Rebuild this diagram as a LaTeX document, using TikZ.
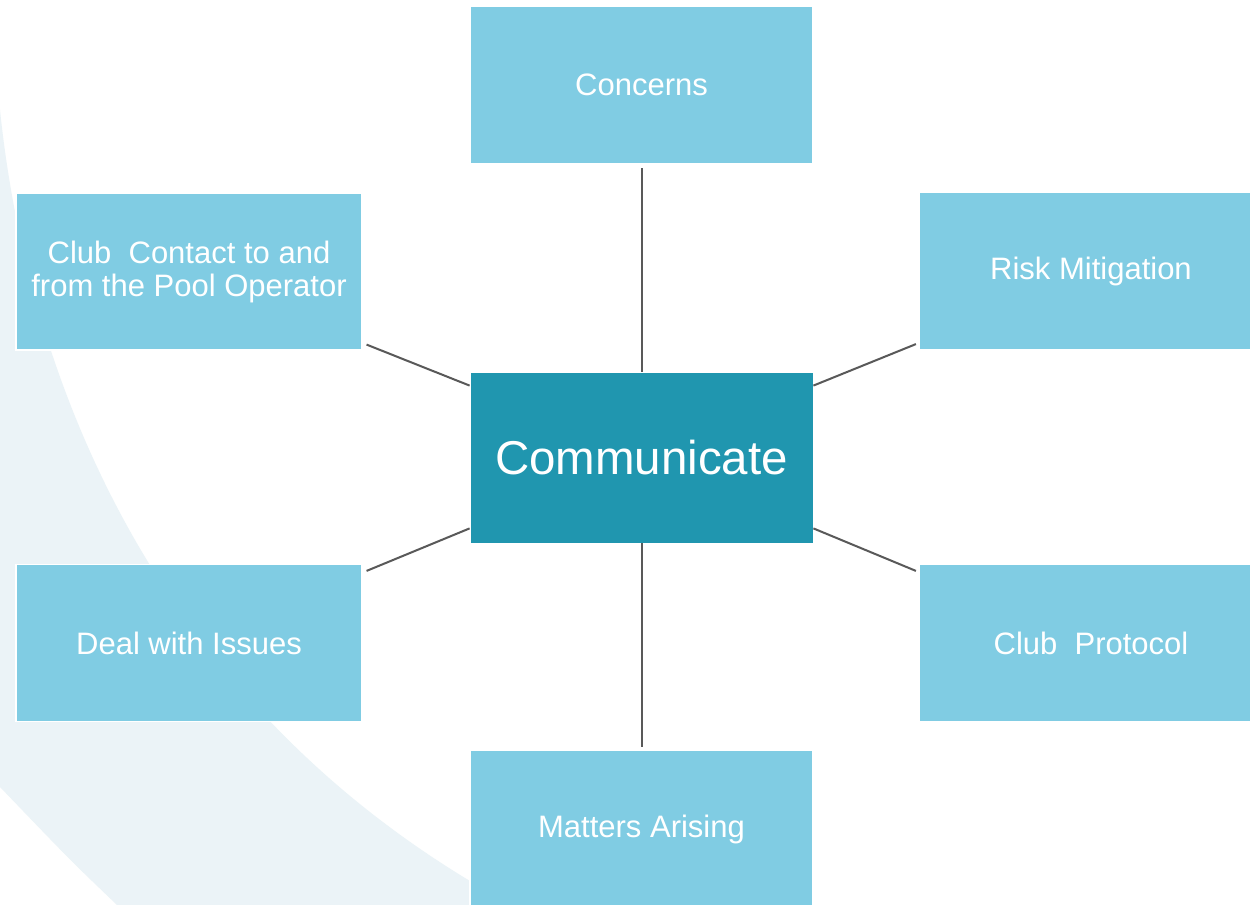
\documentclass[tikz,border=0pt]{standalone}
\usepackage{fontspec}
\setmainfont{Liberation Sans}
\usetikzlibrary{calc}
\definecolor{lightbox}{HTML}{80CCE3}
\definecolor{darkbox}{HTML}{2096AF}
\definecolor{swoosh}{HTML}{EBF3F7}
\definecolor{linkgray}{HTML}{595959}
\tikzset{
  lbox/.style={rectangle, fill=lightbox, draw=white, line width=0.9pt, text=white,
    minimum width=257.25pt, minimum height=117.75pt, inner sep=0pt, align=center,
    font=\fontsize{23.25}{24.75}\selectfont},
  cbox/.style={rectangle, fill=darkbox, draw=white, line width=0.6pt, text=white,
    minimum width=257.25pt, minimum height=128.25pt, inner sep=0pt, align=center,
    font=\fontsize{35.6}{40}\selectfont},
  link/.style={draw=linkgray, line width=1.5pt}
}
\begin{document}
\begin{tikzpicture}[x=0.75pt, y=-0.75pt]
\useasboundingbox (0,0) rectangle (1250,905);
\fill[white] (0,0) rectangle (1250,905);
% background swoosh
\fill[swoosh] (0,110) .. controls (30,400) and (170,720) .. (512,905) -- (117,905) .. controls (70,860) .. (0,787) -- cycle;

% nodes
\node[cbox] (comm) at (641.5,457.5) {Communicate};
\node[lbox] (conc) at (641.5,85) {Concerns};
\node[lbox, minimum width=259.5pt] (club) at (189,271.5) {Club \ Contact to and\\from the Pool Operator};
\node[lbox] (risk) at (1091,271) {Risk Mitigation};
\node[lbox, minimum width=259.5pt] (deal) at (189,643) {Deal with Issues};
\node[lbox] (prot) at (1091,643) {Club \ Protocol};
\node[lbox] (matt) at (641.5,829) {Matters Arising};

% connector end points
\coordinate (e1) at ($(club.south east)+(4,-6)$);
\coordinate (e2) at ($(risk.south west)+(-3,-6)$);
\coordinate (e3) at ($(deal.north east)+(4,7)$);
\coordinate (e4) at ($(prot.north west)+(-3,7)$);
\coordinate (e5) at ($(conc.south)+(0,4)$);
\coordinate (e6) at ($(matt.north)+(0,-3)$);
\coordinate (s1) at ($(comm.north west)+(0,14)$);
\coordinate (s2) at ($(comm.north east)+(0,14)$);
\coordinate (s3) at ($(comm.south west)+(0,-15)$);
\coordinate (s4) at ($(comm.south east)+(0,-15)$);

\draw[link] (e5) -- (comm.north);
\draw[link] (e6) -- (comm.south);
\draw[link] (e1) -- (s1);
\draw[link] (e2) -- (s2);
\draw[link] (e3) -- (s3);
\draw[link] (e4) -- (s4);
\end{tikzpicture}
\end{document}
